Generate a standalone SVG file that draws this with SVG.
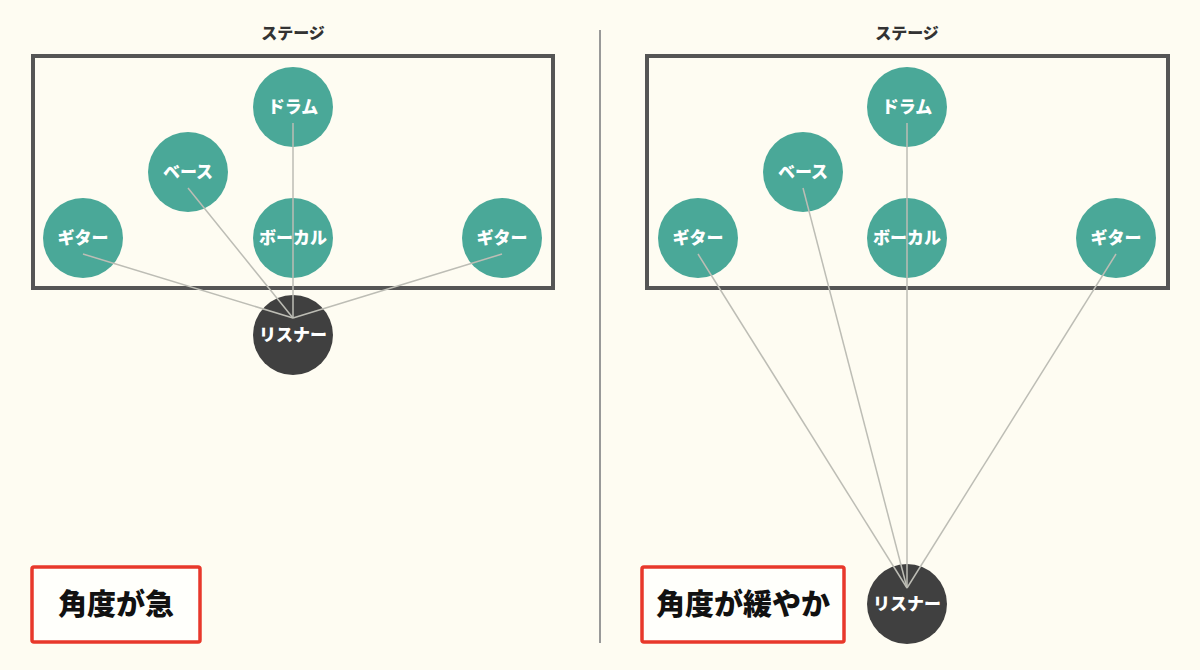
<svg xmlns="http://www.w3.org/2000/svg" width="1200" height="670" viewBox="0 0 1200 670">
<style>
.bg{fill:#fefcf2}
.stage{fill:none;stroke:#555;stroke-width:4}
.title{font-family:"Noto Sans CJK JP",sans-serif;font-weight:900;font-size:16px;fill:#333;text-anchor:middle}
.member{fill:#4aa898}
.listener{fill:#404040}
.lbl{font-family:"Noto Sans CJK JP",sans-serif;font-weight:900;font-size:17px;fill:#fff;text-anchor:middle}
.conn{stroke:#bdbdb5;stroke-width:1.5;fill:none}
.box{fill:#fffffb;stroke:#e8382b;stroke-width:3.5}
.big{font-family:"Noto Sans CJK JP",sans-serif;font-weight:900;font-size:29px;fill:#111;text-anchor:middle}
.divider{stroke:#999;stroke-width:2}
</style>
<rect class="bg" x="0" y="0" width="1200" height="670"/>
<line class="divider" x1="600" y1="30" x2="600" y2="643"/>

<g id="left-stage">
<text class="title" x="293" y="39">ステージ</text>
<rect class="stage" x="33" y="56" width="520" height="232"/>
</g>
<g id="left-drums"><circle class="member" cx="293" cy="107" r="40"/><text class="lbl" x="293" y="113">ドラム</text></g>
<g id="left-bass"><circle class="member" cx="188" cy="172" r="40"/><text class="lbl" x="188" y="178">ベース</text></g>
<g id="left-guitar1"><circle class="member" cx="83" cy="238" r="40"/><text class="lbl" x="83" y="244">ギター</text></g>
<g id="left-vocal"><circle class="member" cx="293" cy="238" r="40"/><text class="lbl" x="293" y="244">ボーカル</text></g>
<g id="left-guitar2"><circle class="member" cx="502" cy="238" r="40"/><text class="lbl" x="502" y="244">ギター</text></g>
<g id="left-listener"><circle class="listener" cx="293" cy="335" r="40"/><text class="lbl" x="293" y="341">リスナー</text></g>

<g id="right-stage">
<text class="title" x="907" y="39">ステージ</text>
<rect class="stage" x="647" y="56" width="521" height="232"/>
</g>
<g id="right-drums"><circle class="member" cx="907" cy="107" r="40"/><text class="lbl" x="907" y="113">ドラム</text></g>
<g id="right-bass"><circle class="member" cx="803" cy="172" r="40"/><text class="lbl" x="803" y="178">ベース</text></g>
<g id="right-guitar1"><circle class="member" cx="698" cy="238" r="40"/><text class="lbl" x="698" y="244">ギター</text></g>
<g id="right-vocal"><circle class="member" cx="907" cy="238" r="40"/><text class="lbl" x="907" y="244">ボーカル</text></g>
<g id="right-guitar2"><circle class="member" cx="1116" cy="238" r="40"/><text class="lbl" x="1116" y="244">ギター</text></g>
<g id="right-listener"><circle class="listener" cx="907" cy="604" r="40"/><text class="lbl" x="907" y="610">リスナー</text></g>

<g id="connectors">
<line class="conn" x1="83" y1="254" x2="293" y2="318"/>
<line class="conn" x1="188" y1="188" x2="293" y2="318"/>
<line class="conn" x1="293" y1="123" x2="293" y2="318"/>
<line class="conn" x1="502" y1="254" x2="293" y2="318"/>
<line class="conn" x1="698" y1="254" x2="907" y2="588"/>
<line class="conn" x1="803" y1="188" x2="907" y2="588"/>
<line class="conn" x1="907" y1="123" x2="907" y2="588"/>
<line class="conn" x1="1116" y1="254" x2="907" y2="588"/>
</g>

<g id="label-steep">
<rect class="box" x="32" y="567" width="168" height="75" rx="2"/>
<text class="big" x="116" y="615">角度が急</text>
</g>
<g id="label-gentle">
<rect class="box" x="642" y="567" width="202" height="75" rx="2"/>
<text class="big" x="743" y="615">角度が緩やか</text>
</g>
</svg>
